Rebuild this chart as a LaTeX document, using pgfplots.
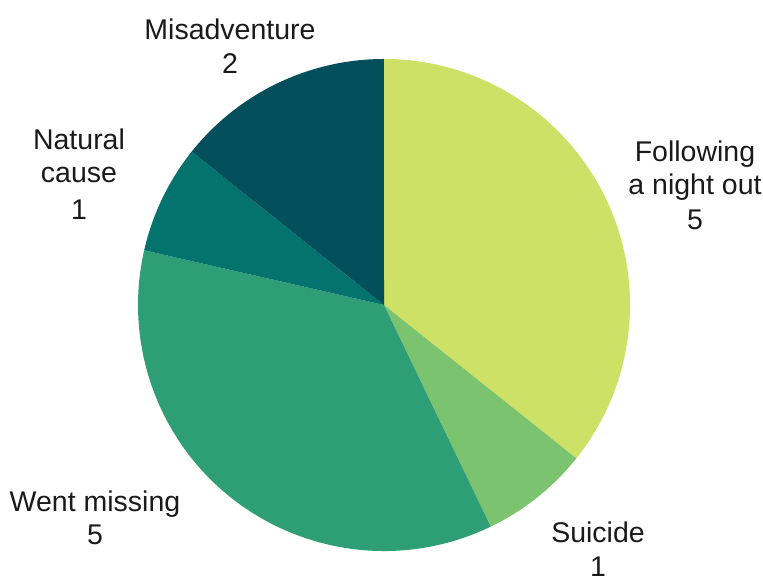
\documentclass[border=0pt]{standalone}
\usepackage{pgfplots}
\usepackage{pgfplotstable}
\pgfplotsset{compat=1.18}
\usepackage{fontspec}
\setmainfont{Liberation Sans}
\definecolor{cA}{HTML}{CCE166}
\definecolor{cB}{HTML}{7BC36F}
\definecolor{cC}{HTML}{2E9E77}
\definecolor{cD}{HTML}{04736E}
\definecolor{cE}{HTML}{034F5B}
\definecolor{txt}{HTML}{1A1A1A}
\pgfplotstableread{
value color
5 cA
1 cB
5 cC
1 cD
2 cE
}\piedata
\begin{document}
\begin{tikzpicture}
\path[use as bounding box] (0,0) rectangle (763pt,577pt);
\begin{axis}[
  at={(0,0)}, anchor=origin,
  scale only axis, width=763pt, height=577pt,
  xmin=0, xmax=763, ymin=0, ymax=577,
  hide axis, clip=false,
]
\pgfmathsetmacro\start{90}
\pgfplotsforeachungrouped \i in {0,...,4}{%
  \pgfplotstablegetelem{\i}{value}\of\piedata \let\v\pgfplotsretval
  \pgfplotstablegetelem{\i}{color}\of\piedata \let\c\pgfplotsretval
  \pgfmathsetmacro\dlt{-\v/14*360}%
  \pgfmathsetmacro\px{384+246*cos(\start)}%
  \pgfmathsetmacro\py{272+246*sin(\start)}%
  \edef\temp{\noexpand\fill[\c] (axis cs:384,272) -- (axis cs:\px,\py) arc[start angle=\start, delta angle=\dlt, radius=246pt] -- cycle;}%
  \temp
  \pgfmathsetmacro\start{\start+\dlt}%
}
\begin{scope}[every node/.style={anchor=base, text=txt, font=\fontsize{28.5}{34}\selectfont, inner sep=0pt}]
\node at (axis cs:230,537) {Misadventure};
\node at (axis cs:230,503) {2};
\node at (axis cs:695,415) {Following};
\node at (axis cs:695,382) {a night out};
\node at (axis cs:695,347) {5};
\node at (axis cs:79,427) {Natural};
\node at (axis cs:79,394) {cause};
\node at (axis cs:79,357) {1};
\node at (axis cs:95,65) {Went missing};
\node at (axis cs:95,32) {5};
\node at (axis cs:598,34) {Suicide};
\node at (axis cs:598,0) {1};
\end{scope}
\end{axis}
\end{tikzpicture}
\end{document}
